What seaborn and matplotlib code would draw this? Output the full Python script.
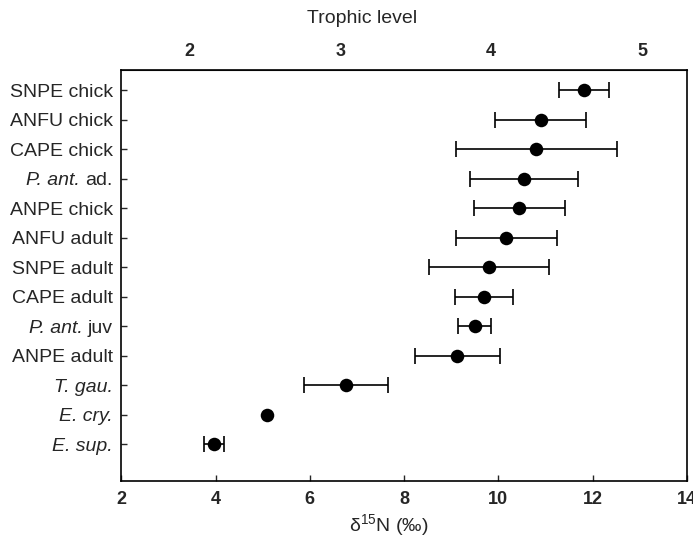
import matplotlib
matplotlib.use("Agg")
import matplotlib.pyplot as plt
import seaborn as sns
import pandas as pd

# values (d15N mean and SD; E. cry. shows no bar)
labels = [
    "SNPE chick", "ANFU chick", "CAPE chick", "P. ant. ad.",
    "ANPE chick", "ANFU adult", "SNPE adult", "CAPE adult",
    "P. ant. juv", "ANPE adult", "T. gau.", "E. cry.", "E. sup.",
]
# part of each label set in italics (species names)
italic_part = ["", "", "", "P. ant.", "", "", "", "", "P. ant.", "", "T. gau.", "E. cry.", "E. sup."]
d15n_mean = [11.82, 10.90, 10.81, 10.55, 10.45, 10.17, 9.80, 9.70, 9.50, 9.13, 6.76, 5.09, 3.97]
d15n_sd = [0.54, 0.97, 1.70, 1.15, 0.97, 1.07, 1.27, 0.62, 0.35, 0.90, 0.89, None, 0.21]
trophic_ticks = [2, 3, 4, 5]

# trophic level conversion used for the top axis
TL_BASE_D15N = 3.45
ENRICH = 3.2


def d2t(d):
    return 2 + (d - TL_BASE_D15N) / ENRICH


def t2d(t):
    return TL_BASE_D15N + (t - 2) * ENRICH


df = pd.DataFrame({"label": labels, "mean": d15n_mean, "sd": d15n_sd})
bars = df.dropna(subset=["sd"])

sns.set_style("ticks")
plt.rcParams["font.family"] = ["Liberation Sans", "DejaVu Sans"]
plt.rcParams["mathtext.fontset"] = "custom"
plt.rcParams["mathtext.rm"] = "Liberation Sans"
plt.rcParams["mathtext.it"] = "Liberation Sans:italic"

fig = plt.figure(figsize=(6.93, 5.44), dpi=100)
ax = fig.add_axes([0.175, 0.116, 0.816, 0.755])

sns.scatterplot(data=df, x="mean", y="label", ax=ax, color="black",
                s=95, edgecolor="black", linewidth=0, zorder=3, legend=False)
ax.errorbar(bars["mean"], bars["label"], xerr=bars["sd"], fmt="none",
            ecolor="black", elinewidth=1.2, capsize=5.5, capthick=1.2, zorder=2)

ax.set_xlim(2, 14)
ax.set_ylim(len(labels) - 1 + 1.25, -0.68)
ax.set_xticks(range(2, 15, 2))
ax.set_xlabel("δ$^{15}$N (‰)", fontsize=14, va="center")
ax.xaxis.set_label_coords(0.473, -0.107, transform=ax.transAxes)
ax.set_ylabel("")

# y tick labels: roman part as tick label, italic species part added beside it
shown = []
for full, it in zip(labels, italic_part):
    shown.append(full[len(it):].strip() if it and it != full else full)
ax.set_yticks(range(len(labels)), shown)

ax.tick_params(axis="x", direction="in", length=4, width=1, labelsize=13, pad=7)
ax.tick_params(axis="y", direction="in", length=4, width=1, labelsize=14, pad=6)
for lab in ax.get_xticklabels():
    lab.set_fontweight("bold")

for lab, full, it in zip(ax.get_yticklabels(), labels, italic_part):
    if it == full:
        lab.set_fontstyle("italic")
    elif it:
        ax.annotate(it, xy=(0, 0), xycoords=lab, xytext=(-4, 0),
                    textcoords="offset points", ha="right", va="bottom",
                    fontsize=14, fontstyle="italic", annotation_clip=False)

for sp in ax.spines.values():
    sp.set_linewidth(1.2)
    sp.set_color("black")

top = ax.secondary_xaxis("top", functions=(d2t, t2d))
top.set_xticks(trophic_ticks)
top.tick_params(length=0, labelsize=13, pad=7)
for lab in top.get_xticklabels():
    lab.set_fontweight("bold")
top.set_xlabel("Trophic level", fontsize=14, va="center")
top.xaxis.set_label_coords(0.426, 1.1265, transform=ax.transAxes)

fig.savefig("out.png", dpi=100)
